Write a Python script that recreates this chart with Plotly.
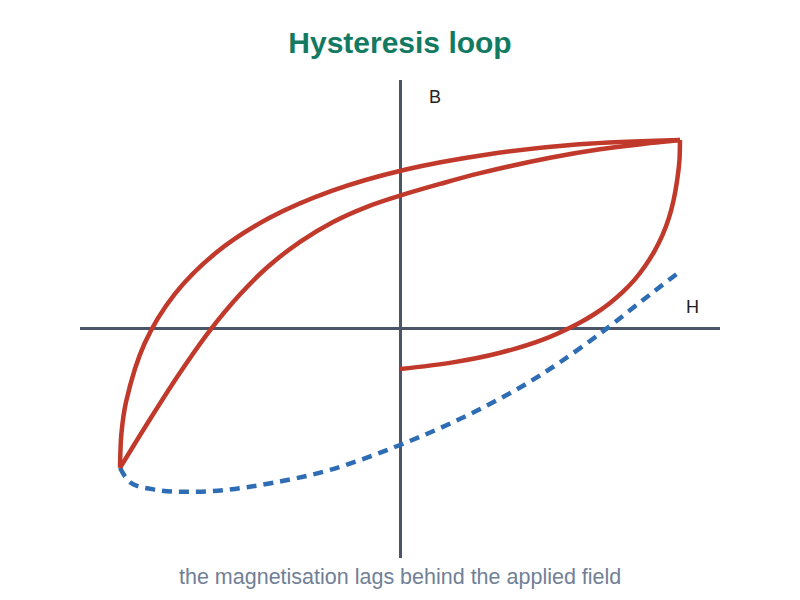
import plotly.graph_objects as go

# Outer (descending) branch: from positive saturation tip to negative tip
outer_H = [1.0, 0.640, 0.312, 0.017, -0.244, -0.469, -0.656, -0.804, -0.912, -0.978, -0.995, -1.0]
outer_B = [1.0, 0.977, 0.923, 0.842, 0.730, 0.585, 0.404, 0.185, -0.076, -0.383, -0.553, -0.735]

# Inner (ascending) branch: from negative tip back to positive tip
inner_H = [-1.0, -0.893, -0.786, -0.682, -0.571, -0.475, -0.357, -0.239, -0.118, 0.0, 0.143, 0.286, 0.536, 0.714, 0.893, 1.0]
inner_B = [-0.735, -0.478, -0.232, -0.014, 0.183, 0.325, 0.461, 0.566, 0.646, 0.705, 0.767, 0.824, 0.906, 0.951, 0.983, 1.0]

# Initial segment starting on the B axis
init_H = [0.0, 0.189, 0.358, 0.508, 0.637, 0.695, 0.748, 0.796, 0.839, 0.876, 0.909, 0.937, 0.960, 0.977, 0.990, 0.998, 1.0]
init_B = [-0.212, -0.177, -0.126, -0.058, 0.029, 0.079, 0.135, 0.196, 0.262, 0.334, 0.412, 0.495, 0.585, 0.680, 0.787, 0.890, 1.0]

# Dashed curve
dash_H = [-1.0, -0.961, -0.868, -0.757, -0.621, -0.457, -0.25, 0.0, 0.229, 0.432, 0.568, 0.732, 0.868, 0.993]
dash_B = [-0.735, -0.815, -0.852, -0.862, -0.852, -0.815, -0.746, -0.614, -0.466, -0.307, -0.180, -0.005, 0.153, 0.296]

title_text = "Hysteresis loop"
subtitle_text = "the magnetisation lags behind the applied field"
x_label = "H"
y_label = "B"

RED = "#c0392b"
BLUE = "#2e6db4"
AXIS = "#4a5568"

fig = go.Figure()
fig.add_trace(go.Scatter(x=dash_H, y=dash_B, mode="lines",
                         line=dict(color=BLUE, width=4.5, dash="10px,7px", shape="spline", smoothing=1.0),
                         hoverinfo="skip"))
for hx, by in [(outer_H, outer_B), (inner_H, inner_B), (init_H, init_B)]:
    fig.add_trace(go.Scatter(x=hx, y=by, mode="lines",
                             line=dict(color=RED, width=4.5, shape="spline", smoothing=1.0),
                             hoverinfo="skip"))

fig.update_layout(
    width=800, height=600,
    margin=dict(l=72, r=88, t=72, b=50),
    paper_bgcolor="white", plot_bgcolor="white",
    showlegend=False,
    font=dict(family="Liberation Sans, Arial, sans-serif"),
    title=dict(text="<b>" + title_text + "</b>", x=(400 - 8) / 800, xanchor="center",
               y=1 - 34 / 600, yanchor="middle", yref="container",
               font=dict(size=30, color="#137a62")),
    xaxis=dict(range=[-1.143, 1.143], showgrid=False, showticklabels=False, ticks="",
               zeroline=True, zerolinecolor=AXIS, zerolinewidth=3, showline=False, fixedrange=True),
    yaxis=dict(range=[-1.212, 1.317], showgrid=False, showticklabels=False, ticks="",
               zeroline=True, zerolinecolor=AXIS, zerolinewidth=3, showline=False, fixedrange=True),
    annotations=[
        dict(text=y_label, x=0.125, y=1.228, xref="x", yref="y", showarrow=False,
             font=dict(size=18, color="#222222")),
        dict(text=x_label, x=1.043, y=0.116, xref="x", yref="y", showarrow=False,
             font=dict(size=18, color="#222222")),
        dict(text=subtitle_text, x=0.5, y=(558 - 577) / 478, xref="paper", yref="paper",
             yanchor="middle", showarrow=False, font=dict(size=21.5, color="#718096")),
    ],
)

fig.write_html("out.html")
